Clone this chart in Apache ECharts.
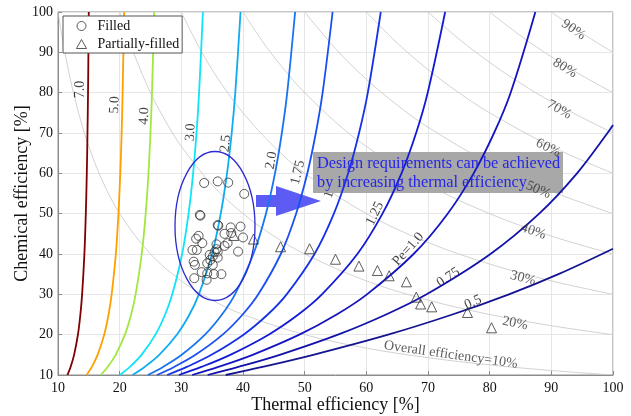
<!DOCTYPE html>
<html><head><meta charset="utf-8">
<script src="https://cdn.jsdelivr.net/npm/echarts@6/dist/echarts.min.js"></script>
<style>html,body{margin:0;padding:0;background:#fff}#c{width:631px;height:416px}</style>
</head><body><div id="c"></div>
<script>
// ---- Pe contour curves, [thermal %, chemical %] ----
const pe7_0 = [[11.53,10],[12.04,12],[12.61,15],[13.23,20],[13.63,25],[13.91,30],[14.28,40],[14.51,50],[14.67,60],[14.78,70],[14.87,80],[14.99,100]];
const pe5_0 = [[14.64,10],[15.48,12],[16.42,15],[17.49,20],[18.20,25],[18.70,30],[19.38,40],[19.80,50],[20.10,60],[20.32,70],[20.48,80],[20.72,100]];
const pe4_0 = [[16.92,10],[18.05,12],[19.35,15],[20.85,20],[21.86,25],[22.59,30],[23.58,40],[24.22,50],[24.67,60],[24.99,70],[25.24,80],[25.60,100]];
const pe3_0 = [[20.04,10],[21.65,12],[23.54,15],[25.80,20],[27.37,25],[28.53,30],[30.13,40],[31.17,50],[31.91,60],[32.46,70],[32.88,80],[33.50,100]];
const pe2_5 = [[22.08,10],[24.04,12],[26.41,15],[29.27,20],[31.32,25],[32.84,30],[34.98,40],[36.39,50],[37.41,60],[38.17,70],[38.75,80],[39.60,100]];
const pe2_0 = [[24.57,10],[27.03,12],[30.06,15],[33.83,20],[36.59,25],[38.70,30],[41.68,40],[43.72,50],[45.19,60],[46.30,70],[47.17,80],[48.45,100]];
const pe1_75 = [[26.05,10],[28.83,12],[32.29,15],[36.70,20],[39.95,25],[42.48,30],[46.13,40],[48.61,50],[50.43,60],[51.81,70],[52.91,80],[54.53,100]];
const pe1_5 = [[27.71,10],[30.88,12],[34.88,15],[40.08,20],[44.01,25],[47.08,30],[51.60,40],[54.74,50],[57.05,60],[58.82,70],[60.24,80],[62.34,100]];
const pe1_25 = [[29.59,10],[33.24,12],[37.93,15],[44.15,20],[48.97,25],[52.80,30],[58.55,40],[62.62,50],[65.70,60],[68.07,70],[69.95,80],[72.78,100]];
const pe1_0 = [[31.76,10],[36.00,12],[41.56,15],[49.14,20],[55.19,25],[60.10,30],[67.66,40],[73.19,50],[77.40,60],[80.71,70],[83.40,80],[87.41,100]];
const pe0_75 = [[34.26,10],[39.25,12],[45.96,15],[55.40,20],[63.21,25],[69.78,30],[80.13,40],[88.03,50],[94.16,60],[99.11,70],[100,72.0]];
const pe0_5 = [[37.20,10],[43.16,12],[51.39,15],[63.53,20],[73.96,25],[83.13,30],[91.16,35],[100,41.3]];
const peNames = ['7.0','5.0','4.0','3.0','2.5','2.0','1.75','1.5','1.25','Pe=1.0','0.75','0.5'];
const peCurves = [pe7_0,pe5_0,pe4_0,pe3_0,pe2_5,pe2_0,pe1_75,pe1_5,pe1_25,pe1_0,pe0_75,pe0_5];

// ---- overall efficiency contours ----
const eta10 = [[10,100],[11,90.91],[12,83.33],[13,76.92],[14,71.43],[15,66.67],[17,58.82],[20,50],[25,40],[30,33.33],[35,28.57],[40,25],[50,20],[60,16.67],[70,14.29],[80,12.5],[90,11.11],[100,10]];
const eta20 = [[20,100],[22,90.91],[25,80],[28,71.43],[30,66.67],[35,57.14],[40,50],[45,44.44],[50,40],[60,33.33],[70,28.57],[80,25],[90,22.22],[100,20]];
const eta30 = [[30,100],[33,90.91],[36,83.33],[40,75],[45,66.67],[50,60],[60,50],[70,42.86],[80,37.5],[90,33.33],[100,30]];
const eta40 = [[40,100],[44,90.91],[48,83.33],[50,80],[55,72.73],[60,66.67],[70,57.14],[80,50],[90,44.44],[100,40]];
const eta50 = [[50,100],[55,90.91],[60,83.33],[65,76.92],[70,71.43],[80,62.5],[90,55.56],[100,50]];
const eta60 = [[60,100],[65,92.31],[70,85.71],[75,80],[80,75],[90,66.67],[100,60]];
const eta70 = [[70,100],[75,93.33],[80,87.5],[85,82.35],[90,77.78],[100,70]];
const eta80 = [[80,100],[85,94.12],[90,88.89],[95,84.21],[100,80]];
const eta90 = [[90,100],[95,94.74],[100,90]];
const etaCurves = [eta10,eta20,eta30,eta40,eta50,eta60,eta70,eta80,eta90];
const etaNames = ['Overall efficiency=10%','20%','30%','40%','50%','60%','70%','80%','90%'];

// ---- measured points ----
const filledPts = [[33.7,57.6],[35.9,58.0],[37.6,57.7],[40.2,54.9],[33.1,49.5],[33.0,49.7],[35.9,47.2],[36.0,47.0],[38.0,46.6],[39.6,46.8],[37.0,45.0],[38.1,45.2],[40.0,44.1],[39.2,40.6],[37.5,42.7],[37.0,42.0],[35.7,42.4],[35.7,41.2],[35.4,40.5],[35.9,40.6],[32.8,44.5],[32.4,43.8],[33.4,42.7],[31.8,41.0],[32.5,41.0],[35.1,39.4],[35.9,39.1],[34.6,39.8],[34.7,38.5],[34.2,37.7],[32.0,38.1],[32.2,37.3],[35.1,37.3],[33.3,35.5],[34.2,35.2],[35.3,35.0],[36.5,35.0],[32.1,34.0],[34.1,33.6]];
const partialPts = [[38.5,44.6],[41.7,43.7],[46.1,41.8],[50.8,41.3],[55.0,38.7],[58.8,37.0],[61.8,35.9],[63.7,34.6],[66.5,33.1],[68.1,29.3],[68.8,27.6],[70.6,26.9],[76.4,25.5],[80.3,21.7]];

// ---- styling / annotation placement ----
const peColors = ['#7f0000','#ffa000','#a0e840','#10e4f8','#10acf0','#1a74f2','#1a50f0','#1632e6','#121ad6','#1414c0','#1212a8','#141490'];
const peLabelAt = [[13.7,80.8],[19.2,77.0],[24.0,74.2],[31.5,70.2],[37.2,67.4],[44.6,63.2],[48.9,60.2],[54.2,56.0],[61.4,50.0],[66.8,41.2],[73.3,34.2],[77.3,28.0]];
const peLabelRot = [90,88,87,86,84,80,76,71,64,48,33,23];
const etaLabelAt = [[73.7,15.0],[84.1,22.8],[85.4,34.0],[87.1,45.6],[87.9,55.9],[89.5,66.3],[91.3,75.8],[92.2,86.1],[93.6,95.6]];
const etaLabelRot = [-8,-11,-15,-19,-23,-26,-29,-32,-34];

const SERIF = '"Liberation Serif","Times New Roman",serif';
const series = [];
etaCurves.forEach(function(d, i){
  series.push({type:'line', name:'eta'+i, data:d, showSymbol:false, smooth:0.35, silent:true, z:1,
    lineStyle:{color:'#c6c6c6', width:0.8}});
});
peCurves.forEach(function(d, i){
  series.push({type:'line', name:'pe'+i, data:d, showSymbol:false, smooth:0.35, silent:true, z:3,
    lineStyle:{color:peColors[i], width:1.8}});
});
function labelData(names, at, rot, color){
  return names.map(function(n, i){
    return {name:n, value:at[i], label:{rotate:rot[i], color:color}};
  });
}
const labelStyle = {show:true, position:'inside', formatter:'{b}', fontFamily:SERIF, fontSize:14, align:'center', verticalAlign:'middle'};
series.push({type:'scatter', name:'peLabels', silent:true, symbolSize:1, itemStyle:{color:'rgba(0,0,0,0)'}, z:1,
  label:labelStyle, data:labelData(peNames, peLabelAt, peLabelRot, '#111')});
series.push({type:'scatter', name:'etaLabels', silent:true, symbolSize:1, itemStyle:{color:'rgba(0,0,0,0)'}, z:6,
  label:labelStyle, data:labelData(etaNames, etaLabelAt, etaLabelRot, '#333')});
series.push({type:'scatter', name:'Filled', data:filledPts, symbol:'circle', symbolSize:9, z:8,
  itemStyle:{color:'rgba(255,255,255,0)', borderColor:'#333', borderWidth:1}});
series.push({type:'scatter', name:'Partially-filled', data:partialPts, symbol:'triangle', symbolSize:10, z:8,
  itemStyle:{color:'rgba(255,255,255,0)', borderColor:'#333', borderWidth:1}});

const axisCommon = {
  type:'value', min:10, max:100, interval:10, nameLocation:'middle', nameMoveOverlap:false,
  nameTextStyle:{fontFamily:SERIF, fontSize:18, color:'#111'},
  axisLine:{show:true, lineStyle:{color:'#8c8c8c'}},
  axisTick:{show:true, inside:true, length:4, lineStyle:{color:'#8c8c8c'}},
  axisLabel:{fontFamily:SERIF, fontSize:14, color:'#111'},
  splitLine:{show:true, lineStyle:{color:'#e6e6e6', width:1}}
};

const chart = echarts.init(document.getElementById('c'), null, {renderer:'canvas'});
chart.setOption({
  animation:false,
  backgroundColor:'#fff',
  grid:{left:58, right:18, top:12, bottom:41, show:true, borderColor:'#8c8c8c', borderWidth:1, containLabel:false, outerBoundsMode:'none'},
  xAxis:Object.assign({}, axisCommon, {name:'Thermal efficiency [%]', nameGap:21, axisLabel:Object.assign({}, axisCommon.axisLabel, {margin:6})}),
  yAxis:Object.assign({}, axisCommon, {name:'Chemical efficiency [%]', nameGap:27, axisLabel:Object.assign({}, axisCommon.axisLabel, {margin:5})}),
  legend:{
    left:63, top:16, orient:'vertical', backgroundColor:'#fff', borderColor:'#555', borderWidth:1,
    padding:[3,3,2,13], itemWidth:10, itemHeight:9, itemGap:4,
    textStyle:{fontFamily:SERIF, fontSize:14, color:'#111', padding:[0,0,0,6]},
    data:[
      {name:'Filled', icon:'circle', itemStyle:{color:'rgba(255,255,255,0)', borderColor:'#333', borderWidth:1}},
      {name:'Partially-filled', icon:'triangle', itemStyle:{color:'rgba(255,255,255,0)', borderColor:'#333', borderWidth:1}}
    ]
  },
  graphic:[
    {type:'polygon', z:1, silent:true, shape:{points:[[256,195],[276,195],[276,186],[321,201],[276,216],[276,207],[256,207]]}, style:{fill:'#5c5cf5'}},
    {type:'rect', z:2, silent:true, shape:{x:313, y:152, width:250, height:41}, style:{fill:'#a8a8a8'}},
    {type:'text', z:20, silent:true, x:317, y:154, style:{text:'Design requirements can be achieved\nby increasing thermal efficiency', fill:'#2626e6', font:'16.3px "Liberation Serif"', lineHeight:19, verticalAlign:'top'}},
    {type:'ellipse', z:20, silent:true, shape:{cx:215, cy:226, rx:40, ry:74.5}, style:{fill:'none', stroke:'#2b2bd0', lineWidth:1.3}}
  ],
  series:series
});
</script>
</body></html>
